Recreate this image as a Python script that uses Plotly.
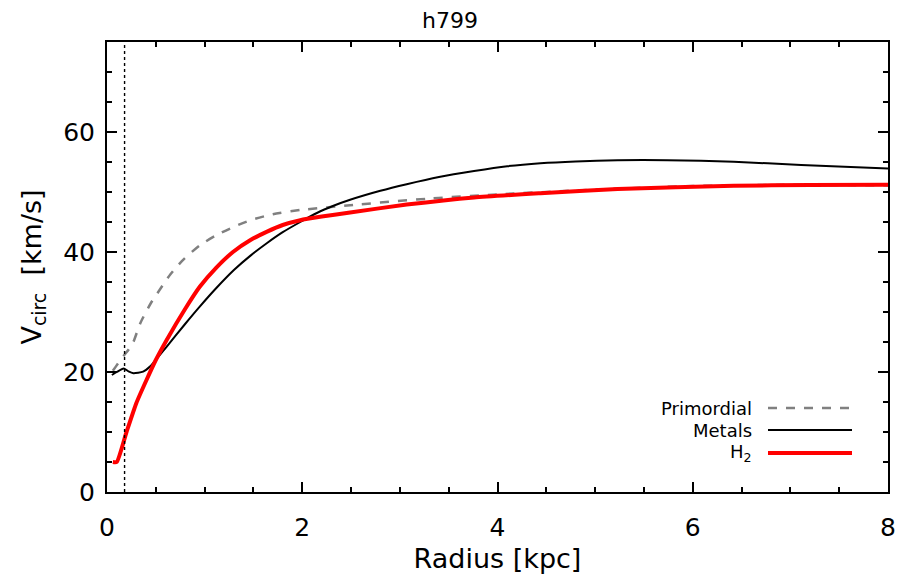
import plotly.graph_objects as go

# ---- data ----
h2_r = [0.06, 0.10, 0.20, 0.30, 0.40, 0.50, 0.61, 0.80, 0.95, 1.12, 1.29, 1.47,
        1.64, 1.80, 1.98, 2.20, 2.49, 3.07, 3.76, 4.44, 5.23, 6.42, 7.20, 8.00]
h2_v = [5.0, 5.0, 10.0, 14.8, 18.5, 22.0, 25.3, 30.5, 34.2, 37.4, 40.0, 42.0,
        43.4, 44.5, 45.3, 45.9, 46.6, 47.9, 49.1, 49.8, 50.5, 51.05, 51.15, 51.2]

metals_r = [0.05, 0.10, 0.17, 0.22, 0.27, 0.37, 0.44, 0.61, 0.80, 0.95, 1.12, 1.30, 1.47,
            1.64, 1.80, 1.98, 2.15, 2.32, 2.49, 2.80, 3.07, 3.40, 3.76, 4.10, 4.44, 4.80,
            5.23, 5.74, 6.42, 7.11, 8.00]
metals_v = [19.5, 20.0, 20.6, 20.1, 19.8, 20.05, 20.9, 24.2, 28.0, 30.9, 34.0, 37.0, 39.4,
            41.5, 43.3, 45.0, 46.5, 47.7, 48.7, 50.2, 51.3, 52.5, 53.5, 54.3, 54.8, 55.1,
            55.3, 55.3, 55.05, 54.5, 53.9]

prim_r = [0.06, 0.09, 0.15, 0.22, 0.27, 0.34, 0.45, 0.54, 0.65, 0.78, 0.95, 1.12, 1.30,
          1.47, 1.70, 1.98, 2.49, 3.30, 4.00, 5.00, 6.00, 7.00, 8.00]
prim_v = [20.2, 20.9, 22.3, 23.7, 25.0, 28.1, 31.5, 33.7, 36.3, 38.7, 41.1, 42.8, 44.2,
          45.3, 46.3, 47.0, 47.8, 48.9, 49.6, 50.4, 51.0, 51.2, 51.1]

softening = 0.18
legend_labels = ["Primordial", "Metals", "H<sub>2</sub>"]
x_ticks = [0, 2, 4, 6, 8]
y_ticks = [0, 20, 40, 60]

FONT = "DejaVu Sans"

fig = go.Figure()
fig.add_trace(go.Scatter(x=prim_r, y=prim_v, mode="lines", name="Primordial",
                         line=dict(color="#808080", width=2.5, dash="dash", shape="spline", smoothing=0.6)))
fig.add_trace(go.Scatter(x=metals_r, y=metals_v, mode="lines", name="Metals",
                         line=dict(color="black", width=2, shape="spline", smoothing=0.6)))
fig.add_trace(go.Scatter(x=h2_r, y=h2_v, mode="lines", name="H2",
                         line=dict(color="red", width=4, shape="spline", smoothing=0.5)))
fig.add_trace(go.Scatter(x=[softening, softening], y=[0, 75], mode="lines",
                         line=dict(color="black", width=1.4, dash="dot"), showlegend=False))

# custom legend (text left, line right)
def px2paper_x(px):
    return (px - 107) / 781.0

def px2paper_y(py):
    return (492 - py) / 450.0

rows = [408, 430, 453]
styles = [dict(color="#808080", width=2.5, dash="dash"),
          dict(color="black", width=2),
          dict(color="red", width=4)]
for lab, py, st in zip(legend_labels, rows, styles):
    fig.add_annotation(x=px2paper_x(754), y=px2paper_y(py), xref="paper", yref="paper",
                       text=lab, showarrow=False, xanchor="right", yanchor="middle",
                       font=dict(family=FONT, size=18, color="black"))
    fig.add_shape(type="line", xref="paper", yref="paper",
                  x0=px2paper_x(768), x1=px2paper_x(852), y0=px2paper_y(py), y1=px2paper_y(py),
                  line=st)

axis_common = dict(showline=True, linecolor="black", linewidth=2, mirror="allticks",
                   ticks="inside", ticklen=10, tickwidth=1.5, tickcolor="black",
                   showgrid=False, zeroline=False, automargin=False,
                   tickfont=dict(family=FONT, size=25, color="black"),
                   minor=dict(ticks="inside", ticklen=5, tickwidth=1.5, tickcolor="black"))

fig.update_layout(
    width=900, height=583,
    margin=dict(l=107, r=12, t=42, b=91),
    paper_bgcolor="white", plot_bgcolor="white",
    showlegend=False,
    title=dict(text="h799", x=0.5, xanchor="center", y=0.965, yanchor="middle",
               font=dict(family=FONT, size=22, color="black")),
    xaxis=dict(range=[0, 8], tickvals=x_ticks, ticktext=[str(v) for v in x_ticks],
               title=dict(text="Radius [kpc]", font=dict(family=FONT, size=27, color="black"), standoff=8),
               **axis_common),
    yaxis=dict(range=[0, 75], tickvals=y_ticks, ticktext=[str(v) for v in y_ticks],
               title=dict(text="V<sub>circ</sub>  [km/s]", font=dict(family=FONT, size=27, color="black"), standoff=14),
               **axis_common),
)
fig.update_xaxes(minor=dict(dtick=0.5), ticklabelstandoff=12)
fig.update_yaxes(minor=dict(dtick=5), ticklabelstandoff=5)

fig.write_html("out.html")
